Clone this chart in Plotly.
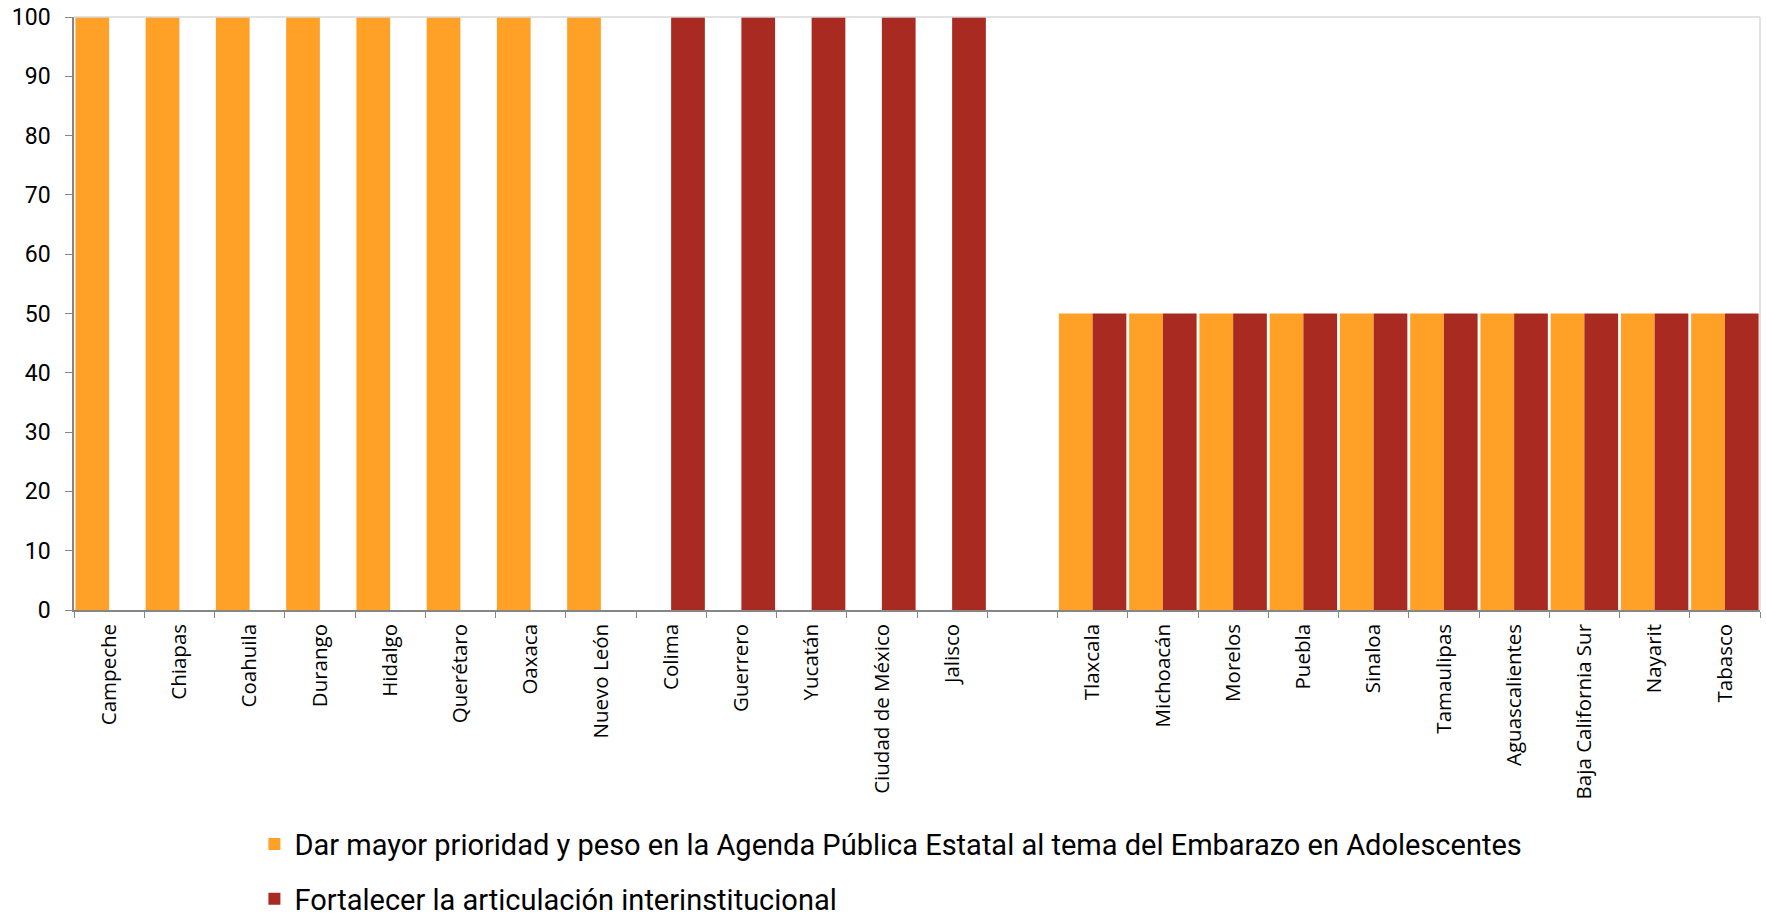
import plotly.graph_objects as go

ORANGE = "#FFA126"
RED = "#A92A20"

estados = [
    "Campeche", "Chiapas", "Coahuila", "Durango", "Hidalgo", "Querétaro",
    "Oaxaca", "Nuevo León", "Colima", "Guerrero", "Yucatán",
    "Ciudad de México", "Jalisco", " ", "Tlaxcala", "Michoacán", "Morelos",
    "Puebla", "Sinaloa", "Tamaulipas", "Aguascalientes",
    "Baja California Sur", "Nayarit", "Tabasco",
]
prioridad = [100, 100, 100, 100, 100, 100, 100, 100,
             None, None, None, None, None, None,
             50, 50, 50, 50, 50, 50, 50, 50, 50, 50]
articulacion = [None, None, None, None, None, None, None, None,
                100, 100, 100, 100, 100, None,
                50, 50, 50, 50, 50, 50, 50, 50, 50, 50]

NAME_1 = "Dar mayor prioridad y peso en la Agenda Pública Estatal al tema del Embarazo en Adolescentes"
NAME_2 = "Fortalecer la articulación interinstitucional"

fig = go.Figure()
fig.add_trace(go.Bar(x=estados, y=prioridad, name=NAME_1, marker_color=ORANGE,
                     marker_line_width=0, legendgroup="a"))
fig.add_trace(go.Bar(x=estados, y=articulacion, name=NAME_2, marker_color=RED,
                     marker_line_width=0, legendgroup="b"))

narrow = "Roboto, sans-serif"

fig.update_layout(
    width=1766,
    height=916,
    barmode="group",
    bargap=0.04,
    bargroupgap=0,
    plot_bgcolor="white",
    paper_bgcolor="white",
    margin={"l": 74, "r": 6, "t": 17, "b": 306, "autoexpand": False},
    legend={
        "orientation": "v",
        "x": 0.107,
        "xanchor": "left",
        "y": -0.352,
        "yanchor": "top",
        "font": {"family": narrow, "size": 29, "color": "black"},
        "tracegroupgap": 14,
        "itemwidth": 30,
    },
    shapes=[
        {"type": "line", "xref": "paper", "yref": "paper", "x0": 0, "x1": 1, "y0": 1, "y1": 1,
         "line": {"color": "#D9D9D9", "width": 1.5}},
        {"type": "line", "xref": "paper", "yref": "paper", "x0": 1, "x1": 1, "y0": 0, "y1": 1,
         "line": {"color": "#D9D9D9", "width": 1.5}},
    ],
)
fig.update_xaxes(
    type="category",
    tickangle=-90,
    tickfont={"family": "Open Sans, sans-serif", "size": 20.5, "color": "black"},
    ticklabelstandoff=4,
    showline=True,
    linecolor="#868686",
    linewidth=1.5,
    ticks="outside",
    tickson="boundaries",
    ticklen=6,
    tickcolor="#868686",
    showgrid=False,
    automargin=False,
)
fig.update_yaxes(
    range=[0, 100],
    dtick=10,
    tickfont={"family": narrow, "size": 23, "color": "black"},
    ticklabelstandoff=10,
    showline=True,
    linecolor="#868686",
    linewidth=1.5,
    ticks="outside",
    ticklen=7,
    tickcolor="#868686",
    showgrid=False,
    zeroline=False,
    automargin=False,
)

# the page body has a default 8px margin; drop it so the figure fills the window
fig.write_html(
    "out.html",
    config={"displayModeBar": False},
    post_script="document.body.style.margin='0';document.body.style.overflow='hidden';",
)
